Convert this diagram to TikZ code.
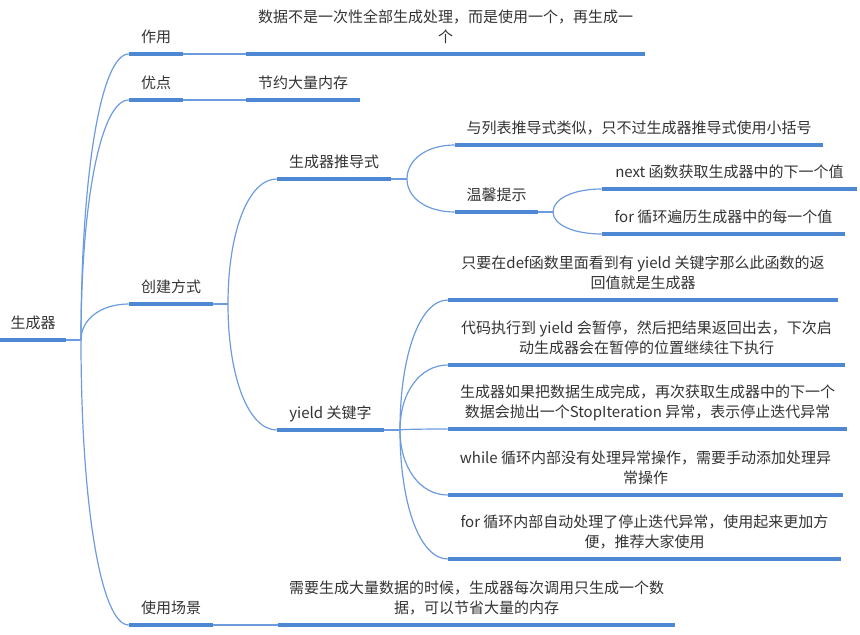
\documentclass[tikz,border=0pt]{standalone}
\usepackage{fontspec}
\setmainfont{Noto Sans CJK SC}
\usetikzlibrary{calc}
\definecolor{mapblue}{RGB}{79,136,210}
\definecolor{linkblue}{RGB}{108,156,222}
\definecolor{mapgray}{RGB}{51,51,51}
\newdimen\pxu \pxu=0.75pt
\begin{document}
\begin{tikzpicture}[x=0.75pt,y=-0.75pt,
  topic/.style={anchor=south,inner xsep=0pt,inner ysep=8.1pt,text depth=0pt,
    align=center,text=mapgray,font=\fontsize{11.25pt}{15pt}\selectfont},
  bar/.style={draw=mapblue,line width=2.5pt},
  link/.style={draw=linkblue,line width=0.9pt}]
% mind map: 生成器, one underline per topic, px coordinates
\global\def\ubar#1{\draw[bar] (#1.south west) -- (#1.south east);}
\global\def\bend#1#2{\draw[link] (#1)
  .. controls ($(#1)!0.58!(#1 |- #2.south west)$) and ($(#2.south west)!0.58!(#1 |- #2.south west)$)
  .. (#2.south west);}
\useasboundingbox (0,0) rectangle (860,635);
\node[topic,minimum width=66\pxu] (gen) at (33,340) {生成器};
\node[topic,minimum width=54\pxu] (use) at (156,54) {作用};
\node[topic,minimum width=54\pxu] (adv) at (156,100) {优点};
\node[topic,minimum width=84\pxu] (create) at (171,304) {创建方式};
\node[topic,minimum width=84\pxu] (scene) at (171,625) {使用场景};
\node[topic,minimum width=399\pxu] (usetxt) at (445.5,54)
 {数据不是一次性全部生成处理，而是使用一个，再生成一\\个};
\node[topic,minimum width=114\pxu] (advtxt) at (303,100) {节约大量内存};
\node[topic,minimum width=114\pxu] (comp) at (334,179) {生成器推导式};
\node[topic,minimum width=368\pxu] (like) at (639,145)
 {与列表推导式类似，只不过生成器推导式使用小括号};
\node[topic,minimum width=83\pxu] (tip) at (496.5,212) {温馨提示};
\node[topic,minimum width=255\pxu] (tipnext) at (729.5,189) {next 函数获取生成器中的下一个值};
\node[topic,minimum width=243\pxu] (tipfor) at (723.5,234) {for 循环遍历生成器中的每一个值};
\node[topic,minimum width=107\pxu] (yield) at (330.5,430) {yield 关键字};
\node[topic,minimum width=390\pxu] (ydef) at (643,300)
 {只要在def函数里面看到有 yield 关键字那么此函数的返\\回值就是生成器};
\node[topic,minimum width=397\pxu] (ypause) at (646.5,365)
 {代码执行到 yield 会暂停，然后把结果返回出去，下次启\\动生成器会在暂停的位置继续往下执行};
\node[topic,minimum width=399\pxu] (ystop) at (647.5,429)
 {生成器如果把数据生成完成，再次获取生成器中的下一个\\数据会抛出一个StopIteration 异常，表示停止迭代异常};
\node[topic,minimum width=395\pxu] (ywhile) at (645.5,495)
 {while 循环内部没有处理异常操作，需要手动添加处理异\\常操作};
\node[topic,minimum width=393\pxu] (yfor) at (644.5,559)
 {for 循环内部自动处理了停止迭代异常，使用起来更加方\\便，推荐大家使用};
\node[topic,minimum width=397\pxu] (scenetxt) at (476.5,625)
 {需要生成大量数据的时候，生成器每次调用只生成一个数\\据，可以节省大量的内存};
\coordinate (gen-fork) at (81,340);
\coordinate (create-fork) at (228,304);
\coordinate (comp-fork) at (407,179);
\coordinate (tip-fork) at (553,212);
\coordinate (yield-fork) at (400,430);
% connectors
\draw[link] (gen.south east) -- (gen-fork);
\bend{gen-fork}{use}
\bend{gen-fork}{adv}
\bend{gen-fork}{create}
\bend{gen-fork}{scene}
\draw[link] (use.south east) -- (usetxt.south west);
\draw[link] (adv.south east) -- (advtxt.south west);
\draw[link] (scene.south east) -- (scenetxt.south west);
\draw[link] (create.south east) -- (create-fork);
\bend{create-fork}{comp}
\bend{create-fork}{yield}
\draw[link] (comp.south east) -- (comp-fork);
\bend{comp-fork}{like}
\bend{comp-fork}{tip}
\draw[link] (tip.south east) -- (tip-fork);
\bend{tip-fork}{tipnext}
\bend{tip-fork}{tipfor}
\draw[link] (yield.south east) -- (yield-fork);
\foreach \n in {ydef,ypause,ystop,ywhile,yfor} {\bend{yield-fork}{\n}}
% underlines
\foreach \n in {gen,use,adv,create,scene,usetxt,advtxt,comp,like,tip,tipnext,tipfor,
  yield,ydef,ypause,ystop,ywhile,yfor,scenetxt} {\ubar{\n}}
\end{tikzpicture}
\end{document}
